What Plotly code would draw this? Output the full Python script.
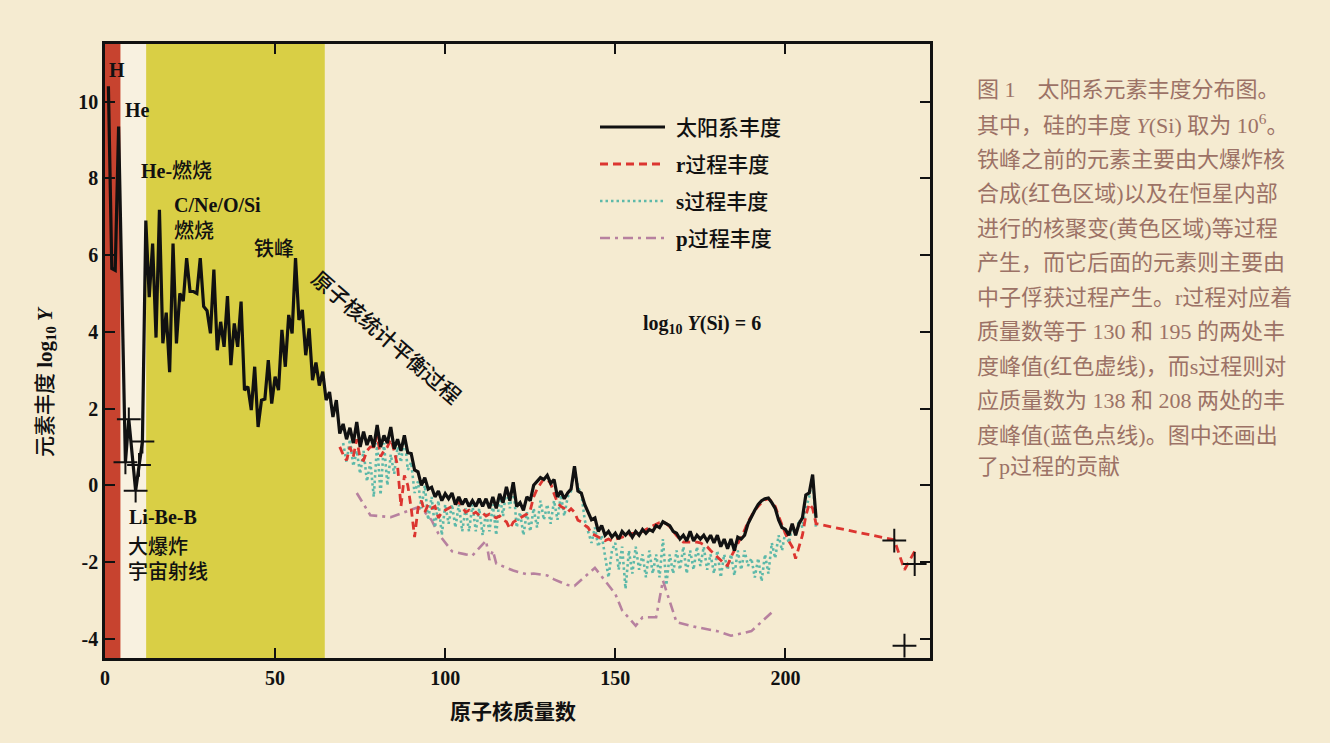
import plotly.graph_objects as go

# ---------------- data ----------------
# solar-system abundance, log10 Y with Y(Si) = 1e6
mass_solar = [1, 2, 3, 4, 6, 7, 9, 10, 11,
              12, 13, 14, 15, 16, 17, 18, 19, 20, 21, 22, 23, 24, 25, 26, 27, 28, 29, 30,
              31, 32, 33, 34, 35, 36, 37, 38, 39, 40, 41, 42, 43, 44, 45, 46, 47, 48, 49, 50,
              51, 52, 53, 54, 55, 56, 57, 58, 59, 60, 61, 62, 63, 64, 65, 66, 67, 68, 69, 70,
              71, 72, 73, 74, 75, 76, 77, 78, 79, 80, 81, 82, 83, 84, 85, 86, 87, 88, 89, 90,
              91, 92, 93, 94, 95, 96, 97, 98, 99, 100, 101, 102, 103, 104, 105, 106, 107, 108, 109, 110,
              111, 112, 113, 114, 115, 116, 117, 118, 119, 120, 121, 122, 123, 124, 125, 126, 127, 128, 129, 130,
              131, 132, 133, 134, 135, 136, 137, 138, 139, 140, 141, 142, 143, 144, 145, 146, 147, 148, 149, 150,
              151, 152, 153, 154, 155, 156, 157, 158, 159, 160, 161, 162, 163, 164, 165, 166, 167, 168, 169, 170,
              171, 172, 173, 174, 175, 176, 177, 178, 179, 180, 181, 182, 183, 184, 185, 186, 187, 188, 189, 190,
              191, 192, 193, 194, 195, 196, 197, 198, 199, 200, 201, 202, 203, 204, 205, 206, 207, 208, 209]
log_solar = [10.4, 5.65, 5.6, 9.35, 0.6, 1.72, -0.14, 0.53, 1.14,
             6.9, 4.9, 6.3, 3.85, 7.18, 3.7, 4.5, 2.95, 6.3, 3.7, 5.0, 4.8, 5.92, 5.05, 5.05, 5.0, 5.92, 4.66, 4.55,
             3.96, 5.62, 3.52, 4.26, 3.61, 4.93, 3.13, 4.22, 3.61, 4.79, 2.48, 2.57, 1.96, 3.09, 1.52, 2.22, 2.25, 3.26, 2.13, 2.83,
             2.48, 4.05, 3.09, 4.44, 3.96, 5.92, 4.31, 4.57, 3.39, 4.09, 2.74, 3.2, 2.6, 2.96, 2.22, 2.43, 1.78, 2.22, 1.35, 1.6,
             1.2, 1.5, 1.1, 1.65, 1.0, 1.4, 1.05, 1.3, 1.0, 1.57, 1.0, 1.3, 1.1, 1.52, 0.95, 1.2, 0.9, 1.3, 0.85, 0.83,
             0.4, 0.35, 0.0, 0.2, -0.1, -0.05, -0.3, -0.15, -0.4, -0.22, -0.35, -0.2, -0.5, -0.3, -0.5, -0.35, -0.55, -0.4, -0.55, -0.35,
             -0.55, -0.35, -0.6, -0.3, -0.6, -0.22, -0.45, -0.04, -0.4, 0.08, -0.55, -0.45, -0.65, -0.3, -0.4, 0.0, 0.1, 0.2, 0.15, 0.26,
             0.05, 0.15, -0.3, -0.15, -0.35, -0.2, -0.1, 0.5, -0.15, -0.2, -0.5, -0.7, -0.9, -0.85, -1.2, -1.05, -1.3, -1.2, -1.35, -1.25,
             -1.4, -1.2, -1.3, -1.2, -1.35, -1.2, -1.3, -1.15, -1.25, -1.15, -1.2, -1.05, -1.1, -0.95, -1.0, -1.05, -1.2, -1.25, -1.4, -1.3,
             -1.45, -1.2, -1.45, -1.3, -1.4, -1.3, -1.45, -1.3, -1.5, -1.3, -1.6, -1.4, -1.65, -1.4, -1.7, -1.35, -1.4, -1.3, -1.0, -0.8,
             -0.65, -0.5, -0.4, -0.35, -0.33, -0.45, -0.6, -0.9, -1.1, -1.15, -1.3, -1.0, -1.3, -1.0, -0.85, -0.25, -0.2, 0.28, -0.85]

# r-process contribution
mass_r = list(range(69, 210)) + [232, 235, 238]
log_r = [1.0, 0.8, 0.65, 1.0, 0.75, 1.2, 0.7, 0.65, 0.9, 1.0, 1.0, 1.3, 0.75, 0.9, 1.0, 1.2, 0.9, 0.5, -0.55, 0.26, 0.0,
         -0.6, -1.35, -0.6, -0.4, -0.7, -0.5, -0.6, -0.55, -0.85, -0.7, -0.65, -0.6, -0.57, -0.5, -0.43, -0.55, -0.7, -0.65, -0.75, -0.7, -0.78,
         -0.72, -0.8, -0.75, -0.8, -0.85, -0.8, -0.9, -0.95, -1.13, -0.96, -0.9, -0.85, -0.8, -0.75, -0.65, -0.3, -0.1, 0.04, 0.17, 0.15,
         0.05, -0.22, -0.45, -0.55, -0.6, -0.7, -0.61, -0.7, -0.91, -0.95, -1.04, -1.1, -1.26, -1.3, -1.35, -1.4, -1.44, -1.4, -1.45, -1.4,
         -1.38, -1.35, -1.33, -1.3, -1.25, -1.25, -1.22, -1.2, -1.15, -1.1, -1.05, -1.0, -0.97, -0.96, -1.0, -1.08, -1.2, -1.31, -1.4, -1.48,
         -1.48, -1.48, -1.48, -1.48, -1.5, -1.55, -1.6, -1.7, -1.78, -1.85, -1.95, -2.05, -2.09, -1.87, -1.7, -1.52, -1.35, -1.17, -0.95, -0.8,
         -0.65, -0.55, -0.45, -0.38, -0.35, -0.42, -0.55, -0.8, -1.05, -1.26, -1.45, -1.6, -1.91, -1.6, -1.3, -0.8, -0.48, -0.6, -1.0,
         -1.42, -2.2, -1.72]

# s-process contribution
mass_s = list(range(70, 210))
log_s = [1.1, 0.6, 1.2, 0.5, 0.9, 0.3, 0.9, 0.1, 0.6, -0.3, 1.1, -0.25, 1.1, 0.0, 0.8, 0.3, 1.0, 0.6, 1.3, 0.4,
         0.6, -0.2, 0.1, -0.6, 0.0, -0.9, -0.3, -1.1, -0.4, -1.3, -0.5, -1.0, -0.5, -1.1, -0.5, -1.2, -0.6, -1.2, -0.5, -1.2,
         -0.6, -1.3, -0.7, -1.2, -0.5, -1.3, -0.25, -0.8, -0.05, -0.6, 0.05, -1.1, -0.7, -1.3, -0.7, -1.2, -0.6, -1.1, -0.4, -0.9,
         -0.5, -1.0, -0.4, -0.9, -0.25, -0.8, -0.3, -0.15, 0.5, -0.05, -0.2, -0.9, -1.2, -1.5, -1.1, -1.6, -1.3, -1.9, -2.4, -1.7,
         -1.5, -2.2, -1.6, -2.7, -1.7, -2.3, -1.6, -2.2, -1.8, -2.4, -1.7, -2.3, -1.8, -2.4, -1.4, -2.6, -1.8, -2.3, -1.7, -2.2,
         -1.6, -2.3, -1.7, -2.2, -1.6, -2.1, -1.6, -2.2, -1.8, -2.3, -1.7, -2.4, -1.8, -2.2, -1.8, -2.35, -1.7, -2.2, -1.7, -2.1,
         -1.9, -2.4, -1.9, -2.5, -1.8, -2.3, -1.5, -1.9, -1.3, -1.7, -1.2, -1.5, -1.1, -1.3, -0.9, -1.1, -0.6, -0.3, 0.26, -1.15]

# p-process contribution
mass_p = [74, 78, 84, 92, 94, 96, 98, 102, 106, 108, 112, 113, 114, 115, 120, 124, 126, 130, 132, 136, 138,
          144, 150, 152, 156, 158, 162, 164, 168, 174, 180, 184, 190, 196]
log_p = [-0.2, -0.78, -0.83, -0.57, -0.7, -0.91, -1.26, -1.72, -1.8, -1.83, -1.44, -1.95, -1.7, -2.04, -2.22, -2.32, -2.3, -2.35, -2.45, -2.6, -2.62,
         -2.15, -2.83, -3.26, -3.66, -3.44, -3.44, -2.48, -3.57, -3.7, -3.8, -3.92, -3.8, -3.31]

# individually marked nuclides (Li, Be, B; Th, U)
mass_marks = [6, 7, 9, 10, 11, 232, 235, 238]
log_marks = [0.6, 1.72, -0.14, 0.53, 1.14, -1.44, -4.18, -2.05]

# shaded production regions along the mass axis
band_edges = [(0, 4.6), (4.6, 12.1), (12.1, 64.6)]
band_colors = ["#C7432F", "#F8F1E0", "#D9CF45"]

series_names = ["太阳系丰度", "r过程丰度", "s过程丰度", "p过程丰度"]

caption_lines = [
    "图 1　太阳系元素丰度分布图。",
    "其中，硅的丰度 <i>Y</i>(Si) 取为 10<sup>6</sup>。",
    "铁峰之前的元素主要由大爆炸核",
    "合成(红色区域)以及在恒星内部",
    "进行的核聚变(黄色区域)等过程",
    "产生，而它后面的元素则主要由",
    "中子俘获过程产生。r过程对应着",
    "质量数等于 130 和 195 的两处丰",
    "度峰值(红色虚线)，而s过程则对",
    "应质量数为 138 和 208 两处的丰",
    "度峰值(蓝色点线)。图中还画出",
    "了p过程的贡献",
]

# ---------------- styling ----------------
BG = "#F5EBD1"
SERIF = "Liberation Serif, Noto Sans CJK SC, serif"
C_SOLAR = "#111111"
C_R = "#DC3530"
C_S = "#5DB9A9"
C_P = "#B7819F"
CAPTION = "#9C7266"

fig = go.Figure()

fig.add_trace(go.Scatter(x=mass_p, y=log_p, mode="lines", name=series_names[3],
                         line=dict(color=C_P, width=2.6, dash="10px,5px,3px,5px")))
fig.add_trace(go.Scatter(x=mass_s, y=log_s, mode="lines", name=series_names[2],
                         line=dict(color=C_S, width=2.6, dash="2.5px,3px")))
fig.add_trace(go.Scatter(x=mass_r, y=log_r, mode="lines", name=series_names[1],
                         line=dict(color=C_R, width=2.8, dash="8px,5px")))
fig.add_trace(go.Scatter(x=mass_solar, y=log_solar, mode="lines", name=series_names[0],
                         line=dict(color=C_SOLAR, width=3.2)))
fig.add_trace(go.Scatter(x=mass_marks, y=log_marks, mode="markers", showlegend=False,
                         marker=dict(symbol="cross-thin", size=17,
                                     line=dict(color=C_SOLAR, width=2))))

for (x0, x1), col in zip(band_edges, band_colors):
    fig.add_shape(type="rect", xref="x", yref="paper", x0=x0, x1=x1, y0=0, y1=1,
                  fillcolor=col, line_width=0, layer="below")


def label(x, y, text, xanchor="center", angle=0, size=20):
    fig.add_annotation(x=x, y=y, xref="x", yref="y", text=text, showarrow=False,
                       xanchor=xanchor, yanchor="middle", textangle=angle,
                       font=dict(family=SERIF, size=size, color="#111111", weight=500))


# in-plot labels: Latin parts bold, CJK parts medium
label(3.5, 10.82, "<b>H</b>")
label(9.5, 9.78, "<b>He</b>")
label(21.0, 8.2, "<b>He-</b>燃烧")
label(19.7, 7.3, "<b>C/Ne/O/Si</b>", xanchor="left")
label(19.7, 6.64, "燃烧", xanchor="left")
label(49.8, 6.17, "铁峰")
label(82.5, 3.83, "原子核统计平衡过程", angle=41, size=21)
label(6.4, -0.82, "<b>Li-Be-B</b>", xanchor="left")
label(6.1, -1.6, "大爆炸", xanchor="left")
label(6.1, -2.25, "宇宙射线", xanchor="left")
label(175.5, 4.18, "<b>log<sub>10</sub> <i>Y</i>(Si) = 6</b>", size=20)

# legend drawn in paper space
W, H = 1330, 743
L, R, T, B = 105, 930, 44, 658


def px(xp):
    return (xp - L) / (R - L)


def py(yp):
    return (B - yp) / (B - T)


leg_styles = [dict(color=C_SOLAR, width=3, dash="solid"),
              dict(color=C_R, width=2.8, dash="8px,5px"),
              dict(color=C_S, width=2.6, dash="2.5px,3px"),
              dict(color=C_P, width=2.6, dash="10px,5px,3px,5px")]
leg_text = ["太阳系丰度", "<b>r</b>过程丰度", "<b>s</b>过程丰度", "<b>p</b>过程丰度"]
leg_rows = [127, 164, 201, 238]
for text, st, yrow in zip(leg_text, leg_styles, leg_rows):
    fig.add_shape(type="line", xref="paper", yref="paper", x0=px(600), x1=px(665),
                  y0=py(yrow), y1=py(yrow), line=st)
    fig.add_annotation(xref="paper", yref="paper", x=px(674), y=py(yrow + 1), text=text,
                       showarrow=False, xanchor="left", yanchor="middle",
                       font=dict(family=SERIF, size=21, color="#111111", weight=500))

# axis titles
fig.add_annotation(xref="paper", yref="paper", x=px(513), y=py(712), text="<b>原子核质量数</b>",
                   showarrow=False, xanchor="center", yanchor="middle",
                   font=dict(family=SERIF, size=21, color="#111111"))
fig.add_annotation(xref="paper", yref="paper", x=px(46), y=py(382),
                   text="元素丰度 <b>log<sub>10</sub> <i>Y</i></b>", textangle=-90,
                   showarrow=False, xanchor="center", yanchor="middle",
                   font=dict(family=SERIF, size=21, color="#111111", weight=500))

# caption beside the chart
cap_rows = [89, 124, 159, 193, 228, 262, 297, 331, 366, 400, 435, 466]
for text, yrow in zip(caption_lines, cap_rows):
    fig.add_annotation(xref="paper", yref="paper", x=px(975), y=py(yrow), text=text,
                       showarrow=False, xanchor="left", yanchor="middle",
                       font=dict(family=SERIF, size=22, color=CAPTION))

axis_common = dict(showline=True, linecolor="#111111", linewidth=2.5, mirror="ticks",
                   ticks="inside", ticklen=10, tickwidth=2, tickcolor="#111111",
                   showgrid=False, zeroline=False,
                   tickfont=dict(family=SERIF, size=20, color="#111111"))

fig.update_layout(
    width=W, height=H,
    margin=dict(l=L, r=W - R, t=T, b=H - B),
    paper_bgcolor=BG, plot_bgcolor=BG,
    showlegend=False,
    xaxis=dict(range=[0, 242.5], tickvals=[0, 50, 100, 150, 200],
               ticktext=["<b>0</b>", "<b>50</b>", "<b>100</b>", "<b>150</b>", "<b>200</b>"],
               **axis_common),
    yaxis=dict(range=[-4.5, 11.5], tickvals=[-4, -2, 0, 2, 4, 6, 8, 10],
               ticktext=["<b>-4</b>", "<b>-2</b>", "<b>0</b>", "<b>2</b>", "<b>4</b>",
                         "<b>6</b>", "<b>8</b>", "<b>10</b>"],
               **axis_common),
)

fig.write_html("out.html")
